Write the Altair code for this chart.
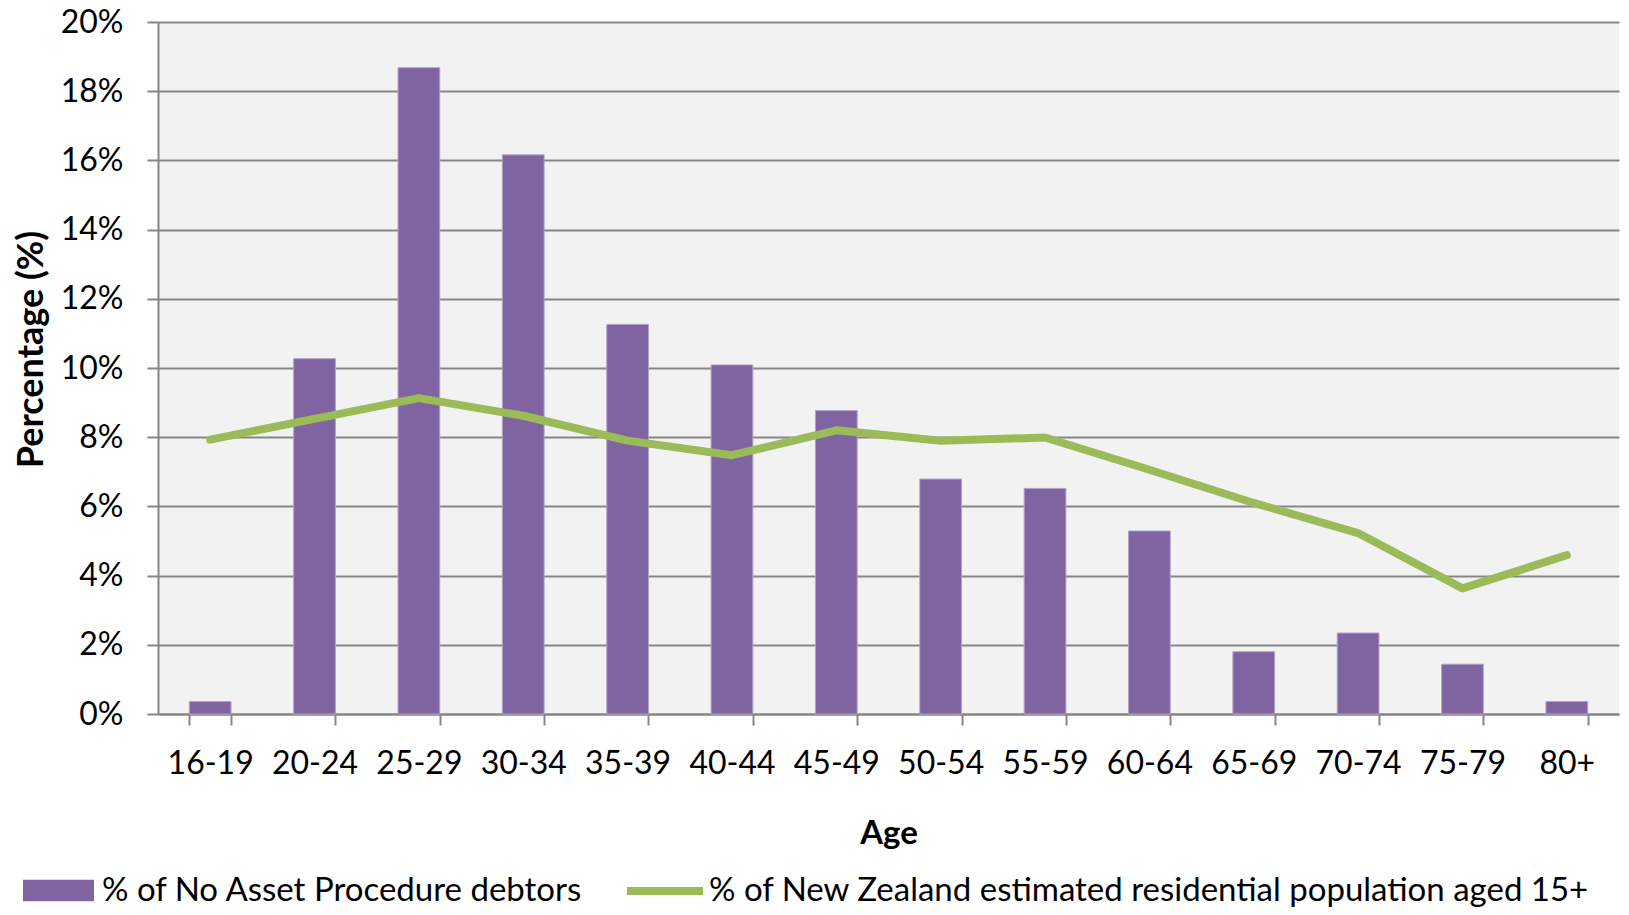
import altair as alt
import pandas as pd

ages = ["16-19", "20-24", "25-29", "30-34", "35-39", "40-44", "45-49",
        "50-54", "55-59", "60-64", "65-69", "70-74", "75-79", "80+"]
debtors_pct = [0.36, 10.27, 18.68, 16.16, 11.26, 10.09, 8.77,
               6.79, 6.52, 5.29, 1.80, 2.34, 1.44, 0.36]
population_pct = [7.93, 8.53, 9.13, 8.62, 7.90, 7.48, 8.20,
                  7.90, 7.99, 7.06, 6.10, 5.23, 3.63, 4.59]
y_ticks = [0, 0.02, 0.04, 0.06, 0.08, 0.10, 0.12, 0.14, 0.16, 0.18, 0.20]

bar_name = "% of No Asset Procedure debtors"
line_name = "% of New Zealand estimated residential population aged 15+"

PURPLE = "#8064A2"
GREEN = "#9BBB59"
GRAY = "#868686"
FONT = "Lato"

df = pd.DataFrame({
    "Age": ages,
    "debtors": [v / 100 for v in debtors_pct],
    "population": [v / 100 for v in population_pct],
    "bar_series": [bar_name] * len(ages),
    "line_series": [line_name] * len(ages),
})

x = alt.X(
    "Age:N", sort=ages,
    scale=alt.Scale(paddingInner=0.6, paddingOuter=0.3),
    axis=alt.Axis(title="Age", labelAngle=0, labelFontSize=32, labelColor="black",
                  labelPadding=23, titleFontSize=33, titleFontWeight="bold",
                  titleColor="black", titlePadding=38, grid=False,
                  tickBand="extent", tickSize=11),
)
y_scale = alt.Scale(domain=[0, 0.2])
y_axis = alt.Axis(title="Percentage (%)", values=y_ticks, format=".0%",
                  labelFontSize=32, labelColor="black", labelPadding=24,
                  titleFontSize=36, titleFontWeight="bold", titleColor="black",
                  titlePadding=10, titleY=327, grid=True, tickSize=11)

bars = alt.Chart(df).mark_bar(stroke="#B3A2C7", strokeWidth=1).encode(
    x=x,
    y=alt.Y("debtors:Q", scale=y_scale, axis=y_axis),
    fill=alt.Fill("bar_series:N", scale=alt.Scale(domain=[bar_name], range=[PURPLE]),
                  legend=alt.Legend(title=None, orient="none", legendX=-135, legendY=833,
                                    symbolType="M-1,-0.3H1V0.3H-1Z", symbolSize=5041,
                                    symbolStrokeWidth=0, labelFontSize=33,
                                    labelColor="black", labelOffset=8, labelFont=FONT)),
)

line = alt.Chart(df).mark_line(strokeWidth=8, strokeCap="round", strokeJoin="round").encode(
    x=x,
    y=alt.Y("population:Q", scale=y_scale, axis=y_axis),
    stroke=alt.Stroke("line_series:N", scale=alt.Scale(domain=[line_name], range=[GREEN]),
                      legend=alt.Legend(title=None, orient="none", legendX=465, legendY=827,
                                        symbolType="stroke", symbolSize=5776,
                                        symbolStrokeWidth=8, labelFontSize=33,
                                        labelColor="black", labelOffset=2, labelFont=FONT)),
)

chart = alt.layer(bars, line).properties(
    width=1461, height=692,
    padding={"left": 150, "top": 14, "right": 2, "bottom": 193},
    autosize=alt.AutoSizeParams(type="none"),
).configure_view(
    fill="#F2F2F2", strokeWidth=0
).configure_axis(
    gridColor=GRAY, gridWidth=2, gridOpacity=1,
    domainColor=GRAY, domainWidth=2,
    tickColor=GRAY, tickWidth=2,
    labelFont=FONT, titleFont=FONT,
).configure_legend(
    labelFont=FONT, labelLimit=0,
)

chart.save("out.html", embed_options={"renderer": "svg", "actions": False})
